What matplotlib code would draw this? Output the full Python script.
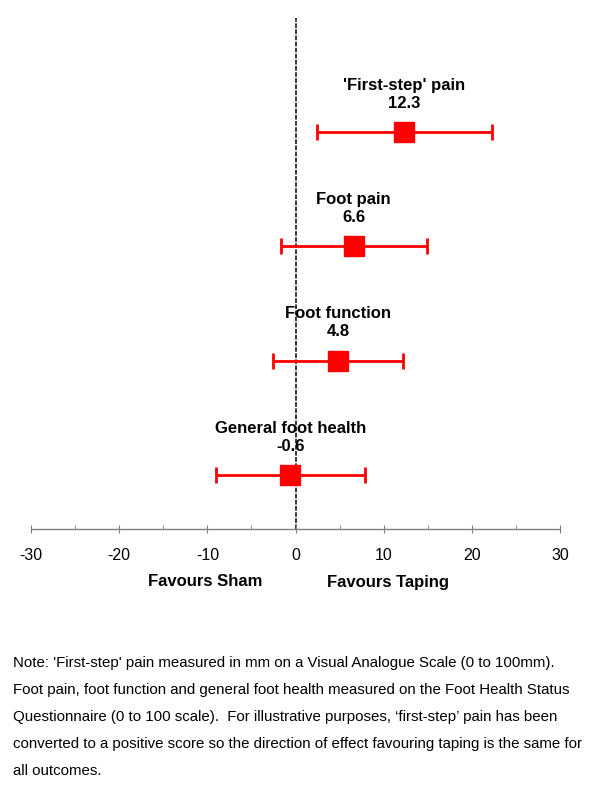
import matplotlib
matplotlib.use('Agg')
import matplotlib.pyplot as plt
from matplotlib.ticker import MultipleLocator

plt.rcParams['font.family'] = ['Liberation Sans', 'DejaVu Sans']
plt.rcParams['axes.unicode_minus'] = False

# outcomes, top to bottom
outcomes = ["'First-step' pain", 'Foot pain', 'Foot function', 'General foot health']
effect = [12.3, 6.6, 4.8, -0.6]
ci_low = [2.4, -1.7, -2.6, -9.0]
ci_high = [22.3, 14.9, 12.2, 7.9]
rows = [4, 3, 2, 1]

note_lines = [
    "Note: 'First-step' pain measured in mm on a Visual Analogue Scale (0 to 100mm).",
    "Foot pain, foot function and general foot health measured on the Foot Health Status",
    "Questionnaire (0 to 100 scale).  For illustrative purposes, \u2018first-step\u2019 pain has been",
    "converted to a positive score so the direction of effect favouring taping is the same for",
    "all outcomes.",
]

W, H = 600, 798
fig = plt.figure(figsize=(W / 100, H / 100), dpi=100)
# axes placed in pixel terms: x -30..30 -> 31..560 px, plot from y=18 to 529 px
ax = fig.add_axes([31 / W, 1 - 529 / H, (560 - 31) / W, (529 - 18) / H])
ax.set_xlim(-30, 30)
ax.set_ylim(0.528, 4.997)

# zero line
ax.axvline(0, color='black', lw=1.1, ls=(0, (3, 1)), zorder=1)

err_lo = [e - l for e, l in zip(effect, ci_low)]
err_hi = [h - e for e, h in zip(effect, ci_high)]
ax.errorbar(effect, rows, xerr=[err_lo, err_hi], fmt='s', color='red',
            ecolor='red', elinewidth=2, capsize=6, capthick=2,
            markersize=15, zorder=3)

for name, e, r in zip(outcomes, effect, rows):
    ax.annotate(name, (e, r), xytext=(0, 47), textcoords='offset pixels',
                ha='center', va='center', fontsize=12, fontweight='bold')
    ax.annotate(f'{e:.1f}', (e, r), xytext=(0, 29), textcoords='offset pixels',
                ha='center', va='center', fontsize=12, fontweight='bold')

# axis styling
for s in ['top', 'left', 'right']:
    ax.spines[s].set_visible(False)
ax.spines['bottom'].set_color('#808080')
ax.spines['bottom'].set_linewidth(1)
ax.set_yticks([])
ax.xaxis.set_major_locator(MultipleLocator(10))
ax.xaxis.set_minor_locator(MultipleLocator(5))
ax.tick_params(axis='x', which='major', direction='inout', length=6,
               color='#808080', labelsize=11.5, pad=11)
ax.tick_params(axis='x', which='minor', direction='in', length=3,
               color='#808080')
ax.patch.set_alpha(0)

fig.text(205 / W, 1 - 582 / H, 'Favours Sham', ha='center', va='center',
         fontsize=12, fontweight='bold')
fig.text(388 / W, 1 - 582 / H, 'Favours Taping', ha='center', va='center',
         fontsize=12, fontweight='bold')

for i, line in enumerate(note_lines):
    fig.text(13 / W, 1 - (663 + 27 * i) / H, line, ha='left', va='center',
             fontsize=10.8)

fig.savefig('out.png', dpi=100)
